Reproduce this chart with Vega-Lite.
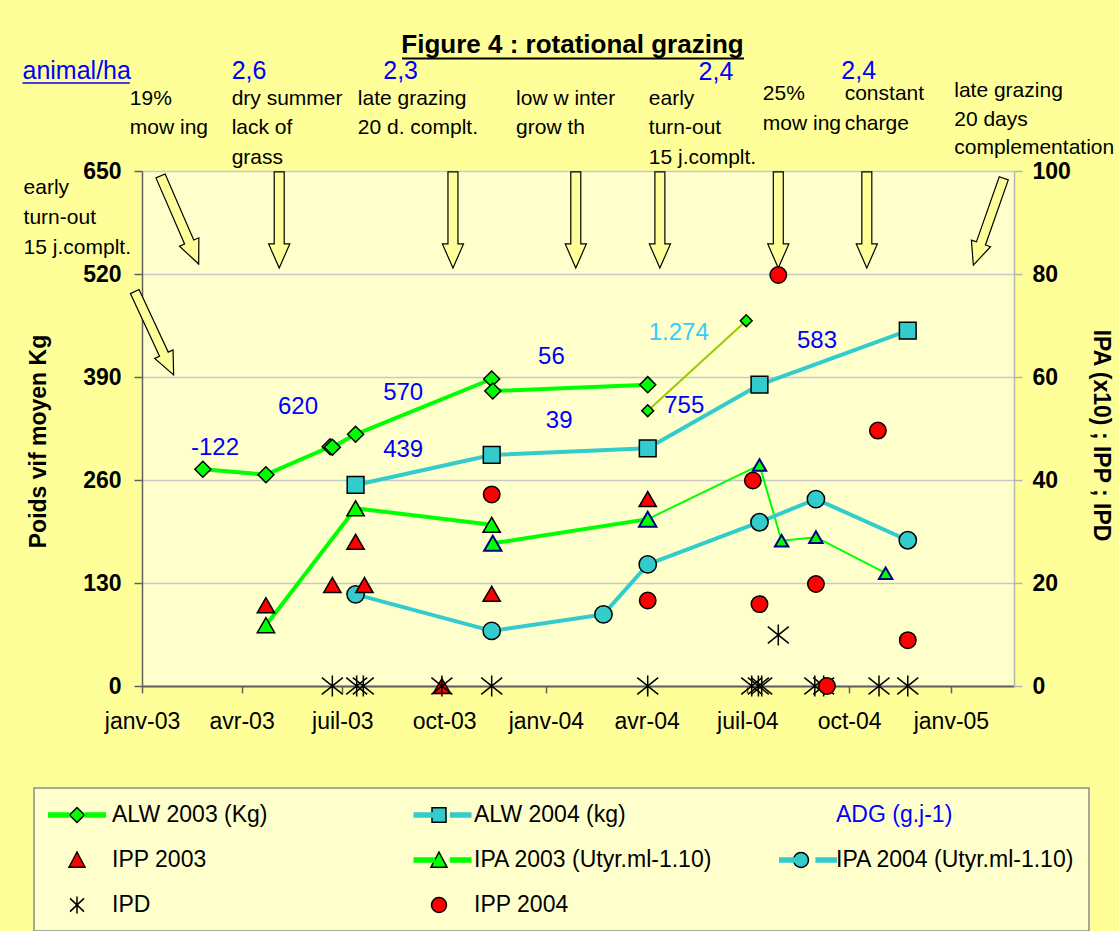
{
  "$schema": "https://vega.github.io/schema/vega-lite/v6.json",
  "width": 872,
  "height": 515,
  "autosize": {"type": "none"},
  "padding": {"left": 142, "top": 171, "right": 105, "bottom": 245},
  "background": "#FFFF99",
  "config": {"view": {"fill": "#FFFFCC", "stroke": null}, "font": "Liberation Sans"},
  "datasets": {
    "alw03": [
      {"date": "2003-02-25", "v": 273.5}, {"date": "2003-04-23", "v": 266.7}, {"date": "2003-06-20", "v": 302.0},
      {"date": "2003-06-22", "v": 301.3}, {"date": "2003-07-13", "v": 317.7}, {"date": "2003-11-13", "v": 387.5},
      {"date": "2003-11-14", "v": 372.3}, {"date": "2004-04-02", "v": 380.3}
    ],
    "alw03b": [{"date": "2004-04-02", "v": 347.5}, {"date": "2004-06-30", "v": 461.1}],
    "alw04": [
      {"date": "2003-07-13", "v": 253.7}, {"date": "2003-11-13", "v": 291.6}, {"date": "2004-04-02", "v": 300.0},
      {"date": "2004-07-12", "v": 380.3}, {"date": "2004-11-23", "v": 448.4}
    ],
    "ipa03": [{"date": "2003-04-23", "v": 11.8}, {"date": "2003-07-13", "v": 34.5}, {"date": "2003-11-13", "v": 31.3}],
    "ipa03b": [{"date": "2003-11-14", "v": 27.7}, {"date": "2004-04-02", "v": 32.4}],
    "ipa03c": [
      {"date": "2004-04-02", "v": 32.4}, {"date": "2004-07-12", "v": 42.9}, {"date": "2004-08-01", "v": 28.2},
      {"date": "2004-09-01", "v": 28.9}, {"date": "2004-11-03", "v": 21.9}
    ],
    "ipa04": [
      {"date": "2003-07-13", "v": 17.8}, {"date": "2003-11-13", "v": 10.7}, {"date": "2004-02-22", "v": 13.9},
      {"date": "2004-04-02", "v": 23.6}, {"date": "2004-07-12", "v": 31.8}, {"date": "2004-09-01", "v": 36.3},
      {"date": "2004-11-23", "v": 28.3}
    ],
    "ipp03": [
      {"date": "2003-04-23", "v": 15.7}, {"date": "2003-06-22", "v": 19.6}, {"date": "2003-07-13", "v": 28.0},
      {"date": "2003-07-21", "v": 19.6}, {"date": "2003-09-29", "v": 0}, {"date": "2003-11-13", "v": 17.9},
      {"date": "2004-04-02", "v": 36.3}
    ],
    "ipp04": [
      {"date": "2003-11-13", "v": 37.2}, {"date": "2004-04-02", "v": 16.6}, {"date": "2004-07-06", "v": 39.9},
      {"date": "2004-07-12", "v": 15.9}, {"date": "2004-07-29", "v": 79.8}, {"date": "2004-09-01", "v": 19.8},
      {"date": "2004-09-11", "v": 0}, {"date": "2004-10-27", "v": 49.6}, {"date": "2004-11-23", "v": 8.9}
    ],
    "ipd": [
      {"date": "2003-06-22", "v": 0}, {"date": "2003-07-14", "v": 0}, {"date": "2003-07-20", "v": 0},
      {"date": "2003-09-29", "v": 0}, {"date": "2003-11-13", "v": 0}, {"date": "2004-04-02", "v": 0},
      {"date": "2004-07-05", "v": 0}, {"date": "2004-07-11", "v": 0}, {"date": "2004-07-14", "v": 0},
      {"date": "2004-07-29", "v": 9.9}, {"date": "2004-08-31", "v": 0}, {"date": "2004-09-08", "v": 0},
      {"date": "2004-10-28", "v": 0}, {"date": "2004-11-23", "v": 0}
    ],
    "adg": [
      {"label": "-122", "date": "2003-03-08", "v": 300.4}, {"label": "620", "date": "2003-05-22", "v": 352.5},
      {"label": "570", "date": "2003-08-25", "v": 369.4}, {"label": "439", "date": "2003-08-25", "v": 297.9},
      {"label": "56", "date": "2004-01-06", "v": 415.2}, {"label": "39", "date": "2004-01-13", "v": 334.5},
      {"label": "1.274", "date": "2004-04-30", "v": 445.2}, {"label": "755", "date": "2004-05-05", "v": 353.4},
      {"label": "583", "date": "2004-09-02", "v": 435.4}
    ],
    "heads": [
      {"t": "animal/ha", "date": "2002-09-15", "v": 776.2}, {"t": "2,6", "date": "2003-03-23", "v": 776.2},
      {"t": "2,3", "date": "2003-08-07", "v": 776.2}, {"t": "2,4", "date": "2004-05-18", "v": 775.0},
      {"t": "2,4", "date": "2004-09-24", "v": 776.2}
    ],
    "notes": [
      {"t": "19%", "date": "2002-12-21", "v": 741.5}, {"t": "mow ing", "date": "2002-12-21", "v": 704.3},
      {"t": "dry summer", "date": "2003-03-23", "v": 741.5}, {"t": "lack of", "date": "2003-03-23", "v": 704.3},
      {"t": "grass", "date": "2003-03-23", "v": 667.0},
      {"t": "late grazing", "date": "2003-07-15", "v": 741.5}, {"t": "20 d. complt.", "date": "2003-07-15", "v": 704.3},
      {"t": "low  w inter", "date": "2003-12-05", "v": 741.5}, {"t": "grow th", "date": "2003-12-05", "v": 704.3},
      {"t": "early", "date": "2004-04-03", "v": 741.5}, {"t": "turn-out", "date": "2004-04-03", "v": 704.3},
      {"t": "15 j.complt.", "date": "2004-04-03", "v": 667.0},
      {"t": "25%", "date": "2004-07-15", "v": 747.2}, {"t": "mow ing", "date": "2004-07-15", "v": 709.3},
      {"t": "constant", "date": "2004-09-27", "v": 747.2}, {"t": "charge", "date": "2004-09-27", "v": 709.3},
      {"t": "late grazing", "date": "2005-01-04", "v": 750.5}, {"t": "20 days", "date": "2005-01-04", "v": 714.8},
      {"t": "complementation", "date": "2005-01-04", "v": 679.0},
      {"t": "early", "date": "2002-09-16", "v": 628.5}, {"t": "turn-out", "date": "2002-09-16", "v": 590.7},
      {"t": "15 j.complt.", "date": "2002-09-16", "v": 552.8}
    ],
    "title": [{"t": "Figure 4 : rotational grazing", "date": "2004-01-25", "v": 798.9}],
    "titleLine": [{"date": "2003-08-24", "date2": "2004-06-28", "v": 792.0}],
    "animalLine": [{"date": "2002-09-15", "date2": "2002-12-21", "v": 761.1}],
    "arrowsV": [
      {"date": "2003-05-05", "v": 588.2}, {"date": "2003-10-09", "v": 588.2}, {"date": "2004-01-28", "v": 588.2},
      {"date": "2004-04-13", "v": 588.2}, {"date": "2004-07-29", "v": 588.2}, {"date": "2004-10-17", "v": 588.2}
    ],
    "arrowD1": [{"date": "2003-02-04", "v": 588.2}],
    "arrowD2": [{"date": "2003-01-12", "v": 445.2}],
    "arrowD3": [{"date": "2005-02-04", "v": 586.0}],
    "legM": [
      {"entry": "ALW 2003 (Kg)"}, {"entry": "ALW 2004 (kg)"}, {"entry": "ADG (g.j-1)"}, {"entry": "IPP 2003"},
      {"entry": "IPA 2003 (Utyr.ml-1.10)"}, {"entry": "IPA 2004 (Utyr.ml-1.10)"}, {"entry": "IPD"}, {"entry": "IPP 2004"}
    ],
    "legL": [
      {"entry": "ALW 2003 (Kg)|L"}, {"entry": "ALW 2004 (kg)|L"}, {"entry": "ADG (g.j-1)|L"}, {"entry": "IPP 2003|L"},
      {"entry": "IPA 2003 (Utyr.ml-1.10)|L"}, {"entry": "IPA 2004 (Utyr.ml-1.10)|L"}, {"entry": "IPD|L"}, {"entry": "IPP 2004|L"}
    ]
  },
  "encoding": {
    "x": {
      "field": "date",
      "type": "temporal",
      "scale": {
        "type": "utc",
        "domain": [{"year": 2003, "month": 1, "date": 1, "utc": true}, {"year": 2005, "month": 2, "date": 27, "utc": true}]
      },
      "axis": {
        "values": [
          {"year": 2003, "month": 1, "date": 1, "utc": true}, {"year": 2003, "month": 4, "date": 1, "utc": true},
          {"year": 2003, "month": 7, "date": 1, "utc": true}, {"year": 2003, "month": 10, "date": 1, "utc": true},
          {"year": 2004, "month": 1, "date": 1, "utc": true}, {"year": 2004, "month": 4, "date": 1, "utc": true},
          {"year": 2004, "month": 7, "date": 1, "utc": true}, {"year": 2004, "month": 10, "date": 1, "utc": true},
          {"year": 2005, "month": 1, "date": 1, "utc": true}
        ],
        "labelExpr": "['janv','févr','mars','avr','mai','juin','juil','août','sept','oct','nov','déc'][utcmonth(datum.value)] + '-' + utcFormat(datum.value, '%y')",
        "labelFont": "Liberation Sans",
        "labelFontSize": 23,
        "labelColor": "black",
        "labelPadding": 17,
        "labelFlush": false,
        "labelOverlap": false,
        "labelBound": false,
        "tickSize": 7,
        "tickColor": "#606060",
        "tickWidth": 1.5,
        "domainColor": "#606060",
        "domainWidth": 2,
        "grid": false,
        "title": null
      }
    }
  },
  "layer": [
    {
      "encoding": {
        "y": {
          "field": "v",
          "type": "quantitative",
          "scale": {"domain": [0, 650], "nice": false, "zero": false},
          "axis": {
            "values": [0, 130, 260, 390, 520, 650],
            "labelFont": "Liberation Sans",
            "labelFontSize": 23,
            "labelFontWeight": "bold",
            "labelColor": "black",
            "labelPadding": 13,
            "labelOverlap": false,
            "labelFlush": false,
            "tickSize": 8,
            "tickColor": "#606060",
            "tickWidth": 1.5,
            "domainColor": "#606060",
            "domainWidth": 1.5,
            "grid": true,
            "gridColor": "#C8C8C8",
            "gridWidth": 1.5,
            "title": "Poids vif moyen Kg",
            "titleFont": "Liberation Sans",
            "titleFontSize": 23,
            "titleFontWeight": "bold",
            "titleColor": "black",
            "titleAngle": -90,
            "titleX": -104,
            "titleY": 270,
            "titleAlign": "center",
            "titleBaseline": "middle"
          }
        }
      },
      "layer": [
        {"data": {"name": "alw03"}, "mark": {"type": "line", "color": "#00FF00", "strokeWidth": 4, "strokeJoin": "round"}},
        {"data": {"name": "alw04"}, "mark": {"type": "line", "color": "#33CCCC", "strokeWidth": 4, "strokeJoin": "round"}},
        {"data": {"name": "alw03b"}, "mark": {"type": "line", "color": "#99CC00", "strokeWidth": 2}},
        {"data": {"name": "alw03"}, "mark": {"type": "point", "shape": "diamond", "size": 256, "filled": true, "fill": "#00FF00", "stroke": "black", "strokeWidth": 1.5, "opacity": 1}},
        {"data": {"name": "alw03b"}, "mark": {"type": "point", "shape": "diamond", "size": 140, "filled": true, "fill": "#00FF00", "stroke": "black", "strokeWidth": 1.5, "opacity": 1}},
        {"data": {"name": "alw04"}, "mark": {"type": "point", "shape": "square", "size": 280, "filled": true, "fill": "#33CCCC", "stroke": "black", "strokeWidth": 1.5, "opacity": 1}},
        {"data": {"name": "arrowsV"}, "mark": {"type": "point", "shape": "M-0.104,-1L0.104,-1L0.104,0.5L0.22,0.5L0,1L-0.22,0.5L-0.104,0.5Z", "size": 9216, "filled": true, "fill": "#FFFF99", "stroke": "black", "strokeWidth": 1.2, "opacity": 1}},
        {"data": {"name": "arrowD1"}, "mark": {"type": "point", "shape": "M-0.104,-1L0.104,-1L0.104,0.5L0.22,0.5L0,1L-0.22,0.5L-0.104,0.5Z", "size": 9216, "angle": 336.6, "filled": true, "fill": "#FFFF99", "stroke": "black", "strokeWidth": 1.2, "opacity": 1}},
        {"data": {"name": "arrowD2"}, "mark": {"type": "point", "shape": "M-0.104,-1L0.104,-1L0.104,0.5L0.22,0.5L0,1L-0.22,0.5L-0.104,0.5Z", "size": 8464, "angle": 335, "filled": true, "fill": "#FFFF99", "stroke": "black", "strokeWidth": 1.2, "opacity": 1}},
        {"data": {"name": "arrowD3"}, "mark": {"type": "point", "shape": "M-0.104,-1L0.104,-1L0.104,0.5L0.22,0.5L0,1L-0.22,0.5L-0.104,0.5Z", "size": 8464, "angle": 19.3, "filled": true, "fill": "#FFFF99", "stroke": "black", "strokeWidth": 1.2, "opacity": 1}},
        {
          "data": {"name": "adg"},
          "mark": {"type": "text", "align": "center", "baseline": "middle", "fontSize": 24, "font": "Liberation Sans"},
          "encoding": {
            "text": {"field": "label"},
            "color": {"condition": {"test": "datum.label === '1.274'", "value": "#33CCFF"}, "value": "#0000FF"}
          }
        },
        {
          "data": {"name": "heads"},
          "mark": {"type": "text", "align": "left", "baseline": "middle", "fontSize": 25, "font": "Liberation Sans", "color": "#0000FF"},
          "encoding": {"text": {"field": "t"}}
        },
        {
          "data": {"name": "notes"},
          "mark": {"type": "text", "align": "left", "baseline": "middle", "fontSize": 21, "font": "Liberation Sans", "color": "black"},
          "encoding": {"text": {"field": "t"}}
        },
        {
          "data": {"name": "title"},
          "mark": {"type": "text", "align": "center", "baseline": "alphabetic", "fontSize": 26, "fontWeight": "bold", "font": "Liberation Sans", "color": "black"},
          "encoding": {"text": {"field": "t"}}
        },
        {"data": {"name": "titleLine"}, "mark": {"type": "rule", "color": "black", "strokeWidth": 2}, "encoding": {"x2": {"field": "date2"}}},
        {"data": {"name": "animalLine"}, "mark": {"type": "rule", "color": "#0000FF", "strokeWidth": 1.5}, "encoding": {"x2": {"field": "date2"}}},
        {
          "data": {"name": "legM"},
          "mark": {"type": "point", "filled": true, "opacity": 0, "stroke": "black", "strokeWidth": 1.5},
          "encoding": {
            "fill": {
              "field": "entry",
              "type": "nominal",
              "scale": {
                "domain": ["ALW 2003 (Kg)", "ALW 2004 (kg)", "ADG (g.j-1)", "IPP 2003", "IPA 2003 (Utyr.ml-1.10)", "IPA 2004 (Utyr.ml-1.10)", "IPD", "IPP 2004"],
                "range": ["#00FF00", "#33CCCC", "transparent", "#FF0000", "#00FF00", "#33CCCC", "transparent", "#FF0000"]
              },
              "legend": {
                "orient": "none", "legendX": -108, "legendY": 617, "columns": 3, "direction": "horizontal", "gridAlign": "all",
                "columnPadding": 59, "rowPadding": 20, "padding": 14, "title": null,
                "symbolSize": 576, "symbolStrokeColor": "black", "symbolStrokeWidth": 1.5, "symbolOpacity": 1,
                "labelFont": "Liberation Sans", "labelFontSize": 23, "labelColor": "black", "labelOffset": 38, "labelLimit": 500,
                "fillColor": "#FFFFCC", "strokeColor": "#8C8C8C",
                "encode": {
                  "labels": {"update": {"fill": {"signal": "datum.value === 'ADG (g.j-1)' ? '#0000FF' : '#000000'"}}},
                  "legend": {"update": {"strokeWidth": {"value": 1.5}}}
                }
              }
            },
            "shape": {
              "field": "entry",
              "type": "nominal",
              "scale": {
                "domain": ["ALW 2003 (Kg)", "ALW 2004 (kg)", "ADG (g.j-1)", "IPP 2003", "IPA 2003 (Utyr.ml-1.10)", "IPA 2004 (Utyr.ml-1.10)", "IPD", "IPP 2004"],
                "range": [
                  "M0.708,0L1.333,-0.625L1.958,0L1.333,0.625Z",
                  "M0.75,-0.6L1.917,-0.6L1.917,0.6L0.75,0.6Z",
                  "M0,0L0,0",
                  "M1.333,-0.667L2,0.6L0.667,0.6Z",
                  "M1.333,-0.667L2,0.6L0.667,0.6Z",
                  "M0.708,0A0.625,0.625 0 1,0 1.958,0A0.625,0.625 0 1,0 0.708,0Z",
                  "M0.75,-0.55L1.917,0.55M0.75,0.55L1.917,-0.55M1.333,-0.7L1.333,0.7",
                  "M0.708,0A0.625,0.625 0 1,0 1.958,0A0.625,0.625 0 1,0 0.708,0Z"
                ]
              },
              "legend": {
                "orient": "none", "legendX": -108, "legendY": 617, "columns": 3, "direction": "horizontal", "gridAlign": "all",
                "columnPadding": 59, "rowPadding": 20, "padding": 14, "title": null,
                "symbolSize": 576, "symbolStrokeColor": "black", "symbolStrokeWidth": 1.5, "symbolOpacity": 1,
                "labelFont": "Liberation Sans", "labelFontSize": 23, "labelColor": "black", "labelOffset": 38, "labelLimit": 500,
                "fillColor": "#FFFFCC", "strokeColor": "#8C8C8C",
                "encode": {
                  "labels": {"update": {"fill": {"signal": "datum.value === 'ADG (g.j-1)' ? '#0000FF' : '#000000'"}}},
                  "legend": {"update": {"strokeWidth": {"value": 1.5}}}
                }
              }
            }
          }
        },
        {
          "data": {"name": "legL"},
          "mark": {"type": "point", "shape": "M-1.083,-0.22L0.72,-0.22L0.72,0.22L-1.083,0.22ZM1.95,-0.22L3.75,-0.22L3.75,0.22L1.95,0.22Z", "filled": true, "opacity": 0},
          "encoding": {
            "color": {
              "field": "entry",
              "type": "nominal",
              "scale": {
                "domain": ["ALW 2003 (Kg)|L", "ALW 2004 (kg)|L", "ADG (g.j-1)|L", "IPP 2003|L", "IPA 2003 (Utyr.ml-1.10)|L", "IPA 2004 (Utyr.ml-1.10)|L", "IPD|L", "IPP 2004|L"],
                "range": ["#00FF00", "#33CCCC", "transparent", "transparent", "#00FF00", "#33CCCC", "transparent", "transparent"]
              },
              "legend": {
                "orient": "none", "legendX": -108, "legendY": 617, "columns": 3, "direction": "horizontal", "gridAlign": "all",
                "columnPadding": 298.5, "rowPadding": 20, "padding": 14, "title": null,
                "symbolType": "M-1.083,-0.22L0.72,-0.22L0.72,0.22L-1.083,0.22ZM1.95,-0.22L3.75,-0.22L3.75,0.22L1.95,0.22Z", "symbolSize": 576,
                "symbolStrokeColor": "transparent", "symbolStrokeWidth": 1.5, "symbolOpacity": 1,
                "labelFont": "Liberation Sans", "labelFontSize": 23, "labelOffset": 38, "labelLimit": 500,
                "labelExpr": "''"
              }
            }
          }
        }
      ]
    },
    {
      "encoding": {
        "y": {
          "field": "v",
          "type": "quantitative",
          "scale": {"domain": [0, 100], "nice": false, "zero": false},
          "axis": {
            "orient": "right",
            "values": [0, 20, 40, 60, 80, 100],
            "labelFont": "Liberation Sans",
            "labelFontSize": 23,
            "labelFontWeight": "bold",
            "labelColor": "black",
            "labelPadding": 10,
            "labelOverlap": false,
            "labelFlush": false,
            "tickSize": 8,
            "tickColor": "#B4B4B4",
            "tickWidth": 1.5,
            "domainColor": "#B4B4B4",
            "domainWidth": 1.5,
            "grid": false,
            "title": "IPA (x10) ; IPP ; IPD",
            "titleFont": "Liberation Sans",
            "titleFontSize": 23,
            "titleFontWeight": "bold",
            "titleColor": "black",
            "titleAngle": 90,
            "titleX": 86,
            "titleY": 264,
            "titleAlign": "center",
            "titleBaseline": "middle"
          }
        }
      },
      "layer": [
        {"data": {"name": "ipa03"}, "mark": {"type": "line", "color": "#00FF00", "strokeWidth": 4, "strokeJoin": "round"}},
        {"data": {"name": "ipa03b"}, "mark": {"type": "line", "color": "#00FF00", "strokeWidth": 4}},
        {"data": {"name": "ipa03c"}, "mark": {"type": "line", "color": "#00FF00", "strokeWidth": 2}},
        {"data": {"name": "ipa04"}, "mark": {"type": "line", "color": "#33CCCC", "strokeWidth": 4, "strokeJoin": "round"}},
        {"data": {"name": "ipa04"}, "mark": {"type": "point", "shape": "circle", "size": 300, "filled": true, "fill": "#33CCCC", "stroke": "black", "strokeWidth": 1.5, "opacity": 1}},
        {"data": {"name": "ipp03"}, "mark": {"type": "point", "shape": "triangle-up", "size": 300, "filled": true, "fill": "#FF0000", "stroke": "black", "strokeWidth": 1.5, "opacity": 1}},
        {"data": {"name": "ipa03"}, "mark": {"type": "point", "shape": "triangle-up", "size": 300, "filled": true, "fill": "#00FF00", "stroke": "black", "strokeWidth": 1.5, "opacity": 1}},
        {"data": {"name": "ipa03c"}, "mark": {"type": "point", "shape": "triangle-up", "size": 180, "filled": true, "fill": "#00FF00", "stroke": "#000080", "strokeWidth": 2, "opacity": 1}},
        {"data": {"name": "ipa03b"}, "mark": {"type": "point", "shape": "triangle-up", "size": 300, "filled": true, "fill": "#00FF00", "stroke": "#000080", "strokeWidth": 2, "opacity": 1}},
        {"data": {"name": "ipd"}, "mark": {"type": "point", "shape": "M-1,-0.8L1,0.8M-1,0.8L1,-0.8M0,-1L0,1", "size": 440, "filled": false, "stroke": "black", "strokeWidth": 1.5, "opacity": 1}},
        {"data": {"name": "ipp04"}, "mark": {"type": "point", "shape": "circle", "size": 270, "filled": true, "fill": "#FF0000", "stroke": "black", "strokeWidth": 1.5, "opacity": 1}}
      ]
    }
  ],
  "resolve": {"scale": {"y": "independent"}}
}
